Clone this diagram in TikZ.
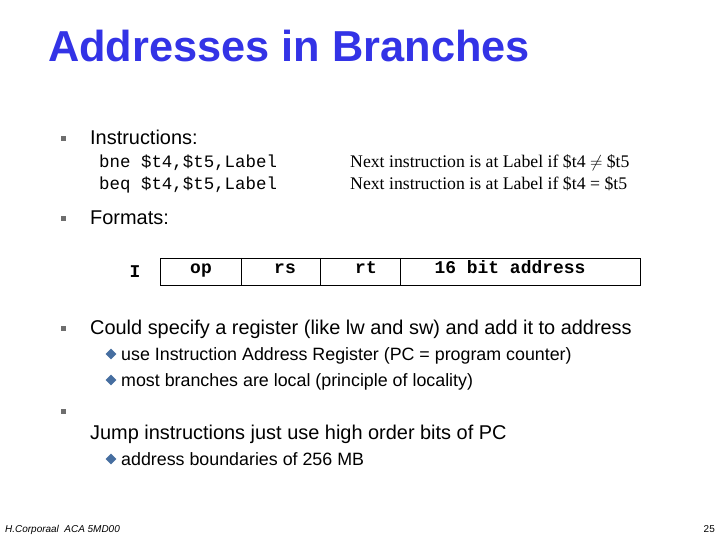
\documentclass[tikz,border=0pt]{standalone}
\usepackage{fontspec}
\setmainfont{Liberation Serif}
\setsansfont{Liberation Sans}
\setmonofont{Liberation Mono}
\usetikzlibrary{positioning, shapes.geometric}
\definecolor{titleblue}{RGB}{51,51,230}
\definecolor{bulletgrey}{RGB}{110,110,110}
\definecolor{diamondblue}{RGB}{70,110,160}
\tikzset{
  txt/.style={anchor=base west, inner sep=0pt, font=\sffamily\fontsize{20}{24}\selectfont},
  subtxt/.style={anchor=base west, inner sep=0pt, font=\sffamily\fontsize{17.9}{21}\selectfont},
  code/.style={anchor=base west, inner sep=0pt, font=\ttfamily\fontsize{17.5}{20}\selectfont},
  note/.style={anchor=base west, inner sep=0pt, font=\rmfamily\fontsize{17.8}{21}\selectfont},
  field/.style={anchor=base, font=\ttfamily\bfseries\fontsize{18}{21}\selectfont, inner sep=0pt},
  sqbullet/.style={fill=bulletgrey, minimum size=5bp, inner sep=0pt},
  dmbullet/.style={diamond, fill=diamondblue, minimum size=11bp, inner sep=0pt}
}
\begin{document}
\begin{tikzpicture}[x=1bp, y=-1bp]
		\useasboundingbox (0,0) rectangle (720,540);
		\node[anchor=base west, inner sep=0pt, text=titleblue, font=\sffamily\bfseries\fontsize{43.5}{50}\selectfont] (title) at (48,62) {Addresses in Branches};
		
		%% instructions
		\node[sqbullet] (b1) at (63,139) {};
		\node[txt] (instr) at (90,145) {Instructions:};
		\node[code] (bne) at (99,168) {bne \$t4,\$t5,Label};
		\node[code] (beq) at (99,190) {beq \$t4,\$t5,Label};
		\node[note] (nbne) at (350,168) {Next instruction is at Label if \$t4 $\neq$ \$t5};
		\node[note] (nbeq) at (350,190) {Next instruction is at Label if \$t4 = \$t5};
		
		%% formats
		\node[sqbullet] (b2) at (63,219) {};
		\node[txt] (formats) at (90,225) {Formats:};
		\node[field] (iname) at (135,278) {I};
		\draw[thick] (160,258) rectangle (640,285);
		\foreach \x in {241,320,400} \draw[thick] (\x,258) -- (\x,285);
		\node[field] (op) at (201,274) {op};
		\node[field] (rs) at (285,274) {rs};
		\node[field] (rt) at (366,274) {rt};
		\node[field] (addr) at (510,274) {16 bit address};
		
		%% register
		\node[sqbullet] (b3) at (63,328) {};
		\node[txt] (could) at (90,334) {Could specify a register (like lw and sw) and add it to address};
		\node[dmbullet] (d1) at (111,354) {};
		\node[subtxt] (use) at (121,360) {use Instruction Address Register (PC = program counter)};
		\node[dmbullet] (d2) at (111,380) {};
		\node[subtxt] (most) at (121,386) {most branches are local (principle of locality)};
		
		%% jump
		\node[sqbullet] (b4) at (63,411) {};
		\node[txt] (jump) at (90,439) {Jump instructions just use high order bits of PC};
		\node[dmbullet] (d3) at (111,459) {};
		\node[subtxt] (bound) at (121,465) {address boundaries of 256 MB};
		
		%% footer
		\node[anchor=base west, inner sep=0pt, font=\sffamily\itshape\fontsize{10}{12}\selectfont] (foot) at (5,532) {H.Corporaal \ ACA 5MD00};
		\node[anchor=base east, inner sep=0pt, font=\sffamily\fontsize{10}{12}\selectfont] (page) at (715,532) {25};
\end{tikzpicture}
\end{document}
